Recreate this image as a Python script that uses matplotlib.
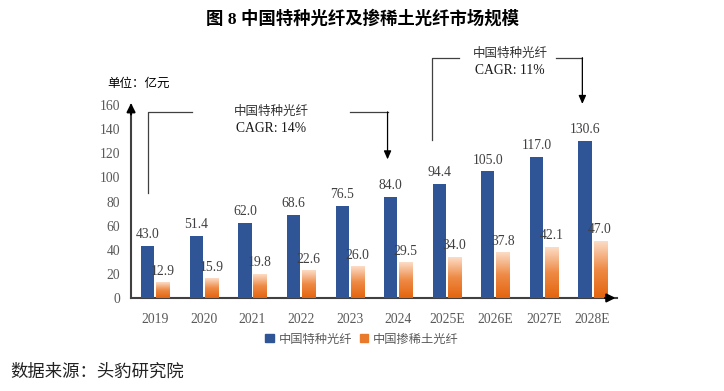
import numpy as np
import matplotlib
matplotlib.use("Agg")
import matplotlib.pyplot as plt
from matplotlib.colors import LinearSegmentedColormap
from matplotlib.patches import Patch

years = ["2019", "2020", "2021", "2022", "2023", "2024", "2025E", "2026E", "2027E", "2028E"]
special_fiber = [43.0, 51.4, 62.0, 68.6, 76.5, 84.0, 94.4, 105.0, 117.0, 130.6]
rare_earth_fiber = [12.9, 15.9, 19.8, 22.6, 26.0, 29.5, 34.0, 37.8, 42.1, 47.0]
series_names = ["中国特种光纤", "中国掺稀土光纤"]
yticks = [0, 20, 40, 60, 80, 100, 120, 140, 160]

cjk = ["Noto Sans CJK SC", "DejaVu Sans"]
serif = ["Liberation Serif", "DejaVu Serif"]
blue = "#2F5597"
orange = "#E97A2B"
gray = "#595959"

fig = plt.figure(figsize=(7.24, 3.91), dpi=100)
ax = fig.add_axes([0.181, 0.238, 0.671, 0.493])

x = np.arange(len(years))
w = 0.27
off = 0.155
b1 = ax.bar(x - off, special_fiber, w, color=blue, zorder=3)
b2 = ax.bar(x + off, rare_earth_fiber, w, color="none", zorder=3)

# gradient fill for the orange bars
grad_cmap = LinearSegmentedColormap.from_list("og", ["#E4650F", "#EE8A45", "#FCDCC6"])
grad = np.linspace(0, 1, 100).reshape(-1, 1)
for r in b2:
    x0, h, bw = r.get_x(), r.get_height(), r.get_width()
    ax.imshow(grad, extent=(x0, x0 + bw, 0, h), origin="lower", cmap=grad_cmap,
              aspect="auto", zorder=3, interpolation="bicubic")

ax.set_xlim(-0.5, len(years) - 0.5)
ax.set_ylim(0, 160)

for xi, v in zip(x, special_fiber):
    ax.text(xi - off, v + 4, f"{v:.1f}", ha="center", va="bottom", fontsize=9.8,
            family=serif, color="#404040")
for xi, v in zip(x, rare_earth_fiber):
    ax.text(xi + off, v + 4, f"{v:.1f}", ha="center", va="bottom", fontsize=9.8,
            family=serif, color="#404040")

ax.set_xticks(x)
ax.set_xticklabels(years, family=serif, fontsize=9.8, color=gray)
ax.set_yticks(yticks)
ax.set_yticklabels([str(t) for t in yticks], family=serif, fontsize=9.8, color=gray)
ax.tick_params(length=0, pad=8)
ax.tick_params(axis="x", pad=11)

for s in ["top", "right"]:
    ax.spines[s].set_visible(False)
for s in ["left", "bottom"]:
    ax.spines[s].set_color("#404040")
    ax.spines[s].set_linewidth(1.5)

# axis arrows
ax.annotate("", xy=(-0.5, 164), xytext=(-0.5, 150), annotation_clip=False,
            arrowprops=dict(arrowstyle="-|>,head_width=0.25,head_length=0.5", color="black", lw=1.5))
ax.annotate("", xy=(9.53, 0), xytext=(9.2, 0), annotation_clip=False,
            arrowprops=dict(arrowstyle="-|>,head_width=0.25,head_length=0.5", color="black", lw=1.5))

# CAGR brackets
lc = "#404040"
ax.plot([-0.16, -0.16, 0.76], [87, 154, 154], color=lc, lw=0.9, clip_on=False)
ax.plot([4.0, 4.78], [154, 154], color=lc, lw=0.9, clip_on=False)
ax.annotate("", xy=(4.78, 115), xytext=(4.78, 154.4), annotation_clip=False,
            arrowprops=dict(arrowstyle="-|>,head_width=0.22,head_length=0.5", color="black", lw=0.9,
                            shrinkA=0, shrinkB=0))
ax.text(2.38, 155, "中国特种光纤", ha="center", va="center", fontsize=9, family=cjk, color="#333333")
ax.text(2.38, 141, "CAGR: 14%", ha="center", va="center", fontsize=9.8, family=serif, color="#1a1a1a")

ax.plot([5.69, 5.69, 6.26], [131, 199, 199], color=lc, lw=0.9, clip_on=False)
ax.plot([8.25, 8.79], [199, 199], color=lc, lw=0.9, clip_on=False)
ax.annotate("", xy=(8.79, 161), xytext=(8.79, 199.4), annotation_clip=False,
            arrowprops=dict(arrowstyle="-|>,head_width=0.22,head_length=0.5", color="black", lw=0.9,
                            shrinkA=0, shrinkB=0))
ax.text(7.3, 203, "中国特种光纤", ha="center", va="center", fontsize=9, family=cjk, color="#333333")
ax.text(7.3, 189, "CAGR: 11%", ha="center", va="center", fontsize=9.8, family=serif, color="#1a1a1a")

# legend
handles = [Patch(color=blue), Patch(color=orange)]
leg = fig.legend(handles, series_names, loc="center", bbox_to_anchor=(0.5, 0.133), ncol=2,
                 frameon=False, prop={"family": cjk, "size": 8.8}, handlelength=0.7, handleheight=0.7,
                 handletextpad=0.4, columnspacing=0.6)
for t in leg.get_texts():
    t.set_color(gray)

fig.text(0.5, 0.952, "图 8 中国特种光纤及掺稀土光纤市场规模", ha="center", va="center",
         fontsize=12.5, fontweight="bold", family=["Liberation Serif", "Noto Sans CJK SC"])
fig.text(0.148, 0.788, "单位：亿元", ha="left", va="center", fontsize=9, family=cjk)
fig.text(0.014, 0.05, "数据来源：头豹研究院", ha="left", va="center", fontsize=12.5, family=cjk, color="#222222")

fig.savefig("out.png", dpi=100)
